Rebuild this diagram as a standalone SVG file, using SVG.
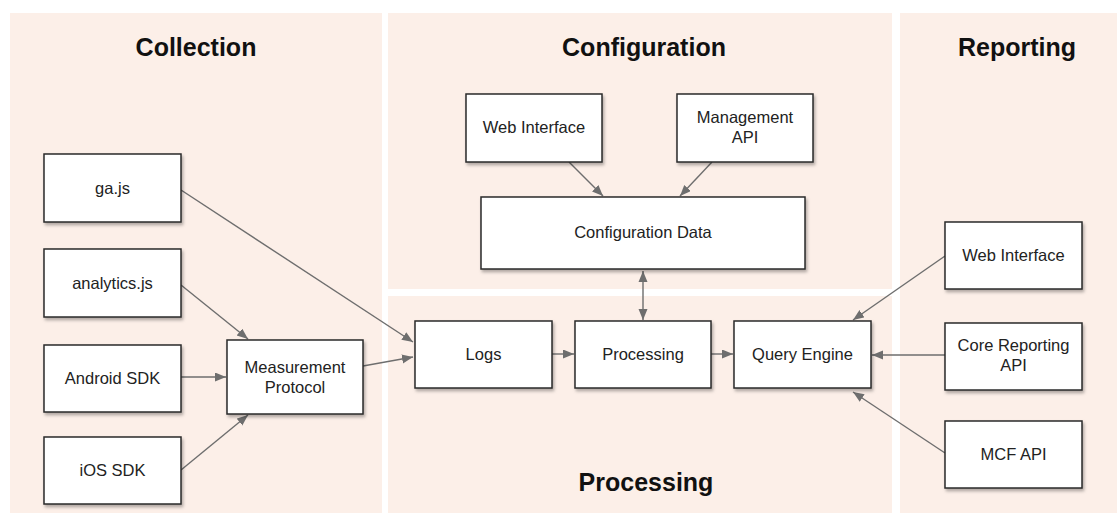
<svg xmlns="http://www.w3.org/2000/svg" width="1117" height="515" viewBox="0 0 1117 515">
<style>
.panel{fill:#fcefe8;stroke:none}
.title{font-family:"Liberation Sans",Arial,sans-serif;font-weight:bold;font-size:25px;fill:#111;text-anchor:middle}
.box{fill:#fff;stroke:#2a2a2a;stroke-width:1.5;filter:url(#sh)}
.lbl{font-family:"Liberation Sans",Arial,sans-serif;font-size:16.5px;fill:#222;text-anchor:middle}
.conn{stroke:#6e6e6e;stroke-width:1.4;fill:none;marker-end:url(#ah)}
</style>
<defs>
<filter id="sh" x="-10%" y="-10%" width="130%" height="140%">
<feDropShadow dx="1.5" dy="2.5" stdDeviation="1.8" flood-color="#000" flood-opacity="0.3"/>
</filter>
<marker id="ah" markerUnits="userSpaceOnUse" markerWidth="12" markerHeight="10" refX="11" refY="4.5" orient="auto">
<path d="M0,0 L11,4.5 L0,9 Z" fill="#6e6e6e"/>
</marker>
<marker id="ahs" markerUnits="userSpaceOnUse" markerWidth="12" markerHeight="10" refX="0" refY="4.5" orient="auto">
<path d="M11,0 L0,4.5 L11,9 Z" fill="#6e6e6e"/>
</marker>
</defs>
<rect width="1117" height="515" fill="#fff"/>
<g id="panels">
<rect class="panel" x="10" y="13" width="372" height="500"/>
<rect class="panel" x="388" y="13" width="504" height="276"/>
<rect class="panel" x="388" y="296" width="504" height="217"/>
<rect class="panel" x="900" y="13" width="217" height="500"/>
<text class="title" x="196" y="56">Collection</text>
<text class="title" x="644" y="56">Configuration</text>
<text class="title" x="1017" y="56">Reporting</text>
<text class="title" x="646" y="491">Processing</text>
</g>
<g id="connectors">
<line class="conn" x1="181" y1="190" x2="413" y2="342"/>
<line class="conn" x1="181" y1="285" x2="248" y2="339"/>
<line class="conn" x1="181" y1="377" x2="226" y2="377"/>
<line class="conn" x1="181" y1="470" x2="248" y2="415"/>
<line class="conn" x1="363" y1="366" x2="413" y2="357"/>
<line class="conn" x1="552" y1="354" x2="574" y2="354"/>
<line class="conn" x1="711" y1="354" x2="733" y2="354"/>
<line class="conn" x1="569" y1="162" x2="603" y2="196"/>
<line class="conn" x1="712" y1="162" x2="680" y2="196"/>
<line class="conn" x1="643" y1="271" x2="643" y2="320" marker-start="url(#ahs)"/>
<line class="conn" x1="945" y1="256" x2="853" y2="320"/>
<line class="conn" x1="945" y1="355" x2="872" y2="355"/>
<line class="conn" x1="945" y1="453" x2="853" y2="392"/>
</g>
<g id="n-gajs"><rect class="box" x="44" y="154" width="137" height="68"/><text class="lbl" x="112.5" y="194">ga.js</text></g>
<g id="n-analyticsjs"><rect class="box" x="44" y="249" width="137" height="68"/><text class="lbl" x="112.5" y="289">analytics.js</text></g>
<g id="n-android"><rect class="box" x="44" y="345" width="137" height="67"/><text class="lbl" x="112.5" y="384">Android SDK</text></g>
<g id="n-ios"><rect class="box" x="44" y="437" width="137" height="67"/><text class="lbl" x="112.5" y="476">iOS SDK</text></g>
<g id="n-mp"><rect class="box" x="227" y="340" width="136" height="74"/><text class="lbl" x="295" y="373">Measurement</text><text class="lbl" x="295" y="393">Protocol</text></g>
<g id="n-logs"><rect class="box" x="415" y="321" width="137" height="67"/><text class="lbl" x="483.5" y="360">Logs</text></g>
<g id="n-processing"><rect class="box" x="575" y="321" width="136" height="67"/><text class="lbl" x="643" y="360">Processing</text></g>
<g id="n-query"><rect class="box" x="734" y="321" width="137" height="67"/><text class="lbl" x="802.5" y="360">Query Engine</text></g>
<g id="n-cwi"><rect class="box" x="466" y="94" width="136" height="68"/><text class="lbl" x="534" y="133">Web Interface</text></g>
<g id="n-mapi"><rect class="box" x="677" y="94" width="136" height="68"/><text class="lbl" x="745" y="123">Management</text><text class="lbl" x="745" y="143">API</text></g>
<g id="n-cdata"><rect class="box" x="481" y="197" width="324" height="72"/><text class="lbl" x="643" y="238">Configuration Data</text></g>
<g id="n-rwi"><rect class="box" x="945" y="222" width="137" height="67"/><text class="lbl" x="1013.5" y="261">Web Interface</text></g>
<g id="n-core"><rect class="box" x="945" y="323" width="137" height="67"/><text class="lbl" x="1013.5" y="351">Core Reporting</text><text class="lbl" x="1013.5" y="371">API</text></g>
<g id="n-mcf"><rect class="box" x="945" y="421" width="137" height="67"/><text class="lbl" x="1013.5" y="460">MCF API</text></g>
</svg>
